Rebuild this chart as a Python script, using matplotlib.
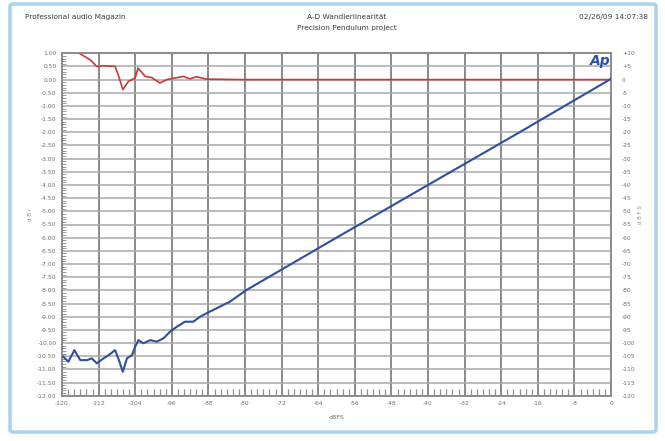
import matplotlib.pyplot as plt
from matplotlib.patches import FancyBboxPatch
from matplotlib.ticker import MultipleLocator

# x = Eingangspegel (dBFS)
x_ticks = [-120, -112, -104, -96, -88, -80, -72, -64, -56, -48, -40, -32, -24, -16, -8, 0]

# Linearitaetsabweichung (linke Achse)
red_x = [-120, -116.7, -113.8, -112.4, -111.0, -108.4, -107.7, -106.7, -105.5, -104.0,
         -103.4, -101.8, -100.4, -98.6, -97.1, -95.3, -93.5, -92.0, -90.6, -88.4,
         -80, -64, -48, -32, -16, 0]
red_y = [1.6, 1.05, 0.75, 0.5, 0.53, 0.5, 0.18, -0.38, -0.07, 0.06,
         0.44, 0.12, 0.08, -0.13, 0.0, 0.06, 0.12, 0.03, 0.11, 0.02,
         0.0, 0.0, 0.0, 0.0, 0.0, 0.0]

# Ausgangspegel (rechte Achse)
blue_x = [-119.7, -118.6, -117.3, -116.0, -114.5, -113.5, -112.4, -110.9, -109.8, -108.4,
          -107.7, -106.7, -105.8, -104.7, -104.0, -103.3, -102.2, -100.7, -99.3, -97.8,
          -96.4, -94.9, -93.1, -91.3, -89.8, -88.4, -86.2, -83.3, -79.7, -60, -40, -20, 0]
blue_y = [-105.2, -107.1, -102.7, -106.5, -106.5, -105.8, -107.7, -105.8, -104.6, -102.7,
          -105.8, -110.9, -105.8, -104.6, -101.4, -98.9, -100.1, -98.9, -99.5, -98.2,
          -95.7, -93.8, -91.9, -91.9, -90.0, -88.7, -86.8, -84.3, -79.9, -60, -40, -20, 0.3]

left_ticks = [1.0 - 0.5 * i for i in range(27)]
right_ticks = [10 - 5 * i for i in range(27)]

fig = plt.figure(figsize=(6.65, 4.41), dpi=100)

# hellblauer Rahmen
fig.patches.append(FancyBboxPatch((10 / 665, 9 / 441), 646 / 665, 428 / 441,
                                  boxstyle="round,pad=0,rounding_size=0.005",
                                  transform=fig.transFigure, fill=False,
                                  edgecolor="#a9d3ea", linewidth=2.5))

ax = fig.add_axes([62 / 665, 45.3 / 441, 549 / 665, 342.4 / 441])
ax2 = ax.twinx()

ax.plot(red_x, red_y, color="#c93a35", linewidth=1.2, zorder=3)
ax2.plot(blue_x, blue_y, color="#2d4f9e", linewidth=1.5, zorder=3)

ax.set_xlim(-120, 0)
ax.set_ylim(-12, 1)
ax2.set_ylim(-120, 10)
ax.set_xticks(x_ticks)
ax.set_xticklabels([str(v) for v in x_ticks])
ax.xaxis.set_minor_locator(MultipleLocator(8 / 6))
ax.set_yticks(left_ticks)
ax.set_yticklabels(["%.2f" % v for v in left_ticks])
ax.yaxis.set_minor_locator(MultipleLocator(0.1))
ax2.set_yticks(right_ticks)
ax2.set_yticklabels([("+%d" % v if v > 0 else str(v)) for v in right_ticks])

ax.grid(True, axis="x", color="#6a6a6a", linewidth=1.1)
ax.grid(True, axis="y", color="#a8a8a8", linewidth=1.1)
ax.tick_params(axis="both", which="major", labelsize=4.3, labelcolor="#707070",
               length=0, pad=4)
ax.tick_params(axis="x", which="minor", direction="in", length=5, width=0.9,
               color="#909090")
ax.tick_params(axis="y", which="minor", direction="in", length=3, color="#8a8a8a")
ax2.tick_params(axis="y", labelsize=4.3, labelcolor="#707070", length=0, pad=8)
for sp in list(ax.spines.values()) + list(ax2.spines.values()):
    sp.set_color("#8a8a8a")
    sp.set_linewidth(1.1)

ax.set_xlabel("dBFS", fontsize=4.5, color="#707070", labelpad=6)
fig.text(31 / 665, 1 - 215 / 441, "d B r", fontsize=4, color="#909090",
         rotation=90, ha="center", va="center")
fig.text(641 / 665, 1 - 215 / 441, "d B F S", fontsize=4, color="#909090",
         rotation=90, ha="center", va="center")

# Kopfzeile
fig.text(25 / 665, 1 - 17 / 441, "Professional audio Magazin", fontsize=5.3,
         color="#3a3a3a", va="center")
fig.text(347 / 665, 1 - 17 / 441, "A-D Wandlerlinearität", fontsize=5.3,
         color="#3a3a3a", ha="center", va="center")
fig.text(347 / 665, 1 - 28 / 441, "Precision Pendulum project", fontsize=5.3,
         color="#3a3a3a", ha="center", va="center")
fig.text(648 / 665, 1 - 17 / 441, "02/26/09 14:07:38", fontsize=5.3,
         color="#3a3a3a", ha="right", va="center")

# Ap logo
fig.text(600 / 665, 1 - 61 / 441, "Ap", fontsize=10, color="#2e4fb0",
         fontweight="bold", style="italic", ha="center", va="center")

fig.savefig("out.png", dpi=100)
